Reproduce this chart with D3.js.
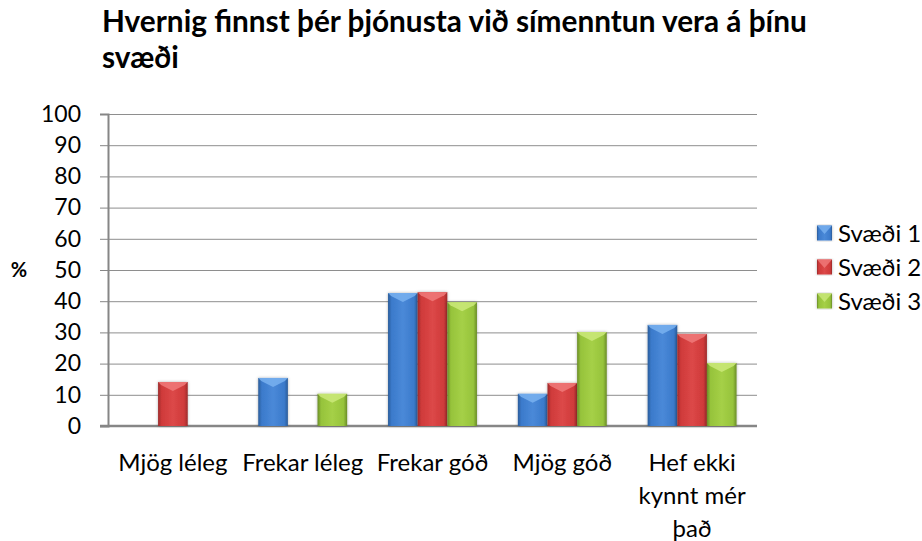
<!DOCTYPE html>
<html>
<head>
<meta charset="utf-8">
<script src="https://cdn.jsdelivr.net/npm/d3@7"></script>
<style>
  body { margin: 0; background: #fff; }
  text { font-family: Lato, "Open Sans", sans-serif; fill: #000; }
</style>
</head>
<body>
<div id="chart"></div>
<script>
// chart data
var categories = ["Mjög léleg", "Frekar léleg", "Frekar góð", "Mjög góð", "Hef ekki\nkynnt mér\nþað"];
var seriesNames = ["Svæði 1", "Svæði 2", "Svæði 3"];
var svaedi1 = [0, 15.4, 42.6, 10.3, 32.4];
var svaedi2 = [14.1, 0, 42.9, 13.8, 29.5];
var svaedi3 = [0, 10.3, 39.7, 30.1, 20.2];
var yTicks = [0, 10, 20, 30, 40, 50, 60, 70, 80, 90, 100];
var titleLines = ["Hvernig finnst þér þjónusta við símenntun vera á þínu", "svæði"];

var seriesValues = [svaedi1, svaedi2, svaedi3];
// dark edge, body, highlight, top bevel
var palette = [
  ["#2b5c99", "#3b7acb", "#4a89d8", "#79b2f0"],
  ["#9c2a2a", "#cf3a3a", "#dc4848", "#f07a7a"],
  ["#6a8c27", "#96c33b", "#a5d047", "#cbe97a"]
];

var width = 922, height = 541;
var plot = {left: 108, right: 757, top: 114, bottom: 426};

var svg = d3.select("#chart").append("svg")
    .attr("width", width)
    .attr("height", height);

var defs = svg.append("defs");
palette.forEach(function(c, i) {
  var g = defs.append("linearGradient")
      .attr("id", "grad" + i)
      .attr("x1", 0).attr("x2", 1).attr("y1", 0).attr("y2", 0);
  g.append("stop").attr("offset", "0%").attr("stop-color", c[0]);
  g.append("stop").attr("offset", "12%").attr("stop-color", c[1]);
  g.append("stop").attr("offset", "50%").attr("stop-color", c[2]);
  g.append("stop").attr("offset", "88%").attr("stop-color", c[1]);
  g.append("stop").attr("offset", "100%").attr("stop-color", c[0]);
});
var shadow = defs.append("filter").attr("id", "shadow")
    .attr("x", "-30%").attr("y", "-10%").attr("width", "160%").attr("height", "120%");
shadow.append("feDropShadow")
    .attr("dx", 0).attr("dy", 0).attr("stdDeviation", 1.5)
    .attr("flood-color", "#000").attr("flood-opacity", 0.3);

// scales
var x0 = d3.scaleBand()
    .domain(categories)
    .range([plot.left, plot.right])
    .padding(0);
var x1 = d3.scaleBand()
    .domain(seriesNames)
    .range([0, x0.bandwidth()])
    .paddingInner(0)
    .paddingOuter(0.69);
var y = d3.scaleLinear()
    .domain([0, 100])
    .range([plot.bottom, plot.top]);

// gridlines
svg.append("g")
  .selectAll("line")
  .data(yTicks.filter(function(d) { return d > 0; }))
  .join("line")
    .attr("x1", plot.left).attr("x2", plot.right)
    .attr("y1", function(d) { return y(d) + 0.5; })
    .attr("y2", function(d) { return y(d) + 0.5; })
    .attr("stroke", "#8e8e8e")
    .attr("stroke-width", 1);

// Y axis
var yAxis = svg.append("g")
    .attr("transform", "translate(" + plot.left + ",0)")
    .call(d3.axisLeft(y).tickValues(yTicks).tickSize(8).tickPadding(19));
yAxis.select(".domain").attr("stroke", "#868686").attr("stroke-width", 2);
yAxis.selectAll(".tick line").attr("stroke", "#868686");
yAxis.selectAll(".tick text")
    .style("font-family", "Lato, sans-serif")
    .style("font-size", "23px")
    .attr("fill", "#000");

// baseline
svg.append("line")
    .attr("x1", plot.left - 8).attr("x2", plot.right)
    .attr("y1", y(0)).attr("y2", y(0))
    .attr("stroke", "#868686")
    .attr("stroke-width", 2.5);

// % label
svg.append("text")
    .attr("x", 19)
    .attr("y", y(50))
    .attr("dy", "0.35em")
    .attr("text-anchor", "middle")
    .style("font-size", "20px")
    .style("font-weight", "bold")
    .text("%");

// bars
function bevel(x, yTop, w) {
  var b = Math.min(9, (plot.bottom - yTop));
  return [[x, yTop], [x + w, yTop], [x + w - 3, yTop + 3],
          [x + w / 2, yTop + b], [x + 3, yTop + 3]].join(" ");
}

seriesNames.forEach(function(name, si) {
  var g = svg.append("g");
  var items = categories.map(function(c, i) { return {cat: c, value: seriesValues[si][i]}; })
      .filter(function(d) { return d.value > 0; });
  var bar = g.selectAll("g")
    .data(items)
    .join("g")
      .attr("filter", "url(#shadow)");
  bar.append("rect")
      .attr("x", function(d) { return x0(d.cat) + x1(name); })
      .attr("y", function(d) { return y(d.value); })
      .attr("width", x1.bandwidth())
      .attr("height", function(d) { return y(0) - y(d.value); })
      .attr("fill", "url(#grad" + si + ")");
  bar.append("polygon")
      .attr("points", function(d) { return bevel(x0(d.cat) + x1(name), y(d.value), x1.bandwidth()); })
      .attr("fill", palette[si][3])
      .attr("opacity", 0.85);
});

// category labels
var catG = svg.append("g");
categories.forEach(function(c) {
  var t = catG.append("text")
      .attr("text-anchor", "middle")
      .style("font-size", "24px");
  c.split("\n").forEach(function(line, i) {
    t.append("tspan")
        .attr("x", x0(c) + x0.bandwidth() / 2)
        .attr("y", 471 + i * 33)
        .text(line);
  });
});

// title
var title = svg.append("text")
    .style("font-weight", "bold")
    .style("font-size", "24px");
titleLines.forEach(function(line, i) {
  title.append("tspan")
      .attr("x", 102)
      .attr("y", 32 + i * 36)
      .text(line);
});
var firstW = title.select("tspan").node().getComputedTextLength();
title.style("font-size", (24 * 705 / firstW) + "px");

// legend
var legend = svg.append("g");
seriesNames.forEach(function(name, i) {
  var cy = 233 + i * 34;
  legend.append("rect")
      .attr("x", 817).attr("y", cy - 7.5)
      .attr("width", 15).attr("height", 15)
      .attr("fill", "url(#grad" + i + ")")
      .attr("filter", "url(#shadow)");
  legend.append("polygon")
      .attr("points", [[817, cy - 7.5], [832, cy - 7.5], [824.5, cy + 1]].join(" "))
      .attr("fill", palette[i][3])
      .attr("opacity", 0.8);
  legend.append("text")
      .attr("x", 838)
      .attr("y", cy)
      .attr("dy", "0.36em")
      .style("font-size", "24px")
      .text(name);
});
</script>
</body>
</html>
